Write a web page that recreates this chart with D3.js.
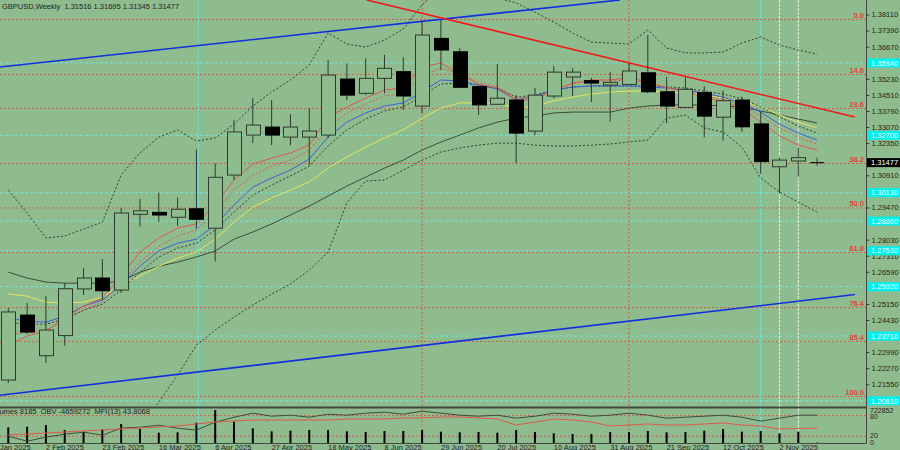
<!DOCTYPE html>
<html>
<head>
<meta charset="utf-8">
<script src="https://cdn.jsdelivr.net/npm/d3@7"></script>
<style>
  body { margin: 0; background: #8fbc8f; }
  svg { display: block; }
  text { font-family: "Liberation Sans", Arial, sans-serif; }
</style>
</head>
<body>
<div id="svg-container"></div>
<script>
// weekly candles, 19 Jan 2025 .. 16 Nov 2025
var opens  = [1.2174,1.2465,1.2283,1.2373,1.2582,1.2631,1.2577,1.2916,1.2925,1.2903,1.2941,1.2854,1.3092,1.3271,1.3307,1.3262,1.3262,1.3271,1.3522,1.3458,1.3525,1.3555,1.3401,1.3704,1.3644,1.3488,1.3409,1.3428,1.3289,1.3446,1.3531,1.3515,1.3495,1.3498,1.3550,1.3465,1.3395,1.3461,1.3351,1.3428,1.3321,1.3129,1.3155,1.31516];
var highs  = [1.2497,1.2519,1.2550,1.2609,1.2676,1.2716,1.2945,1.2985,1.3013,1.2991,1.3207,1.3145,1.3338,1.3437,1.3428,1.3365,1.3392,1.3607,1.3592,1.3615,1.3630,1.3619,1.3783,1.3786,1.3660,1.3491,1.3589,1.3450,1.3482,1.3580,1.3571,1.3527,1.3555,1.3592,1.3719,1.3532,1.3530,1.3491,1.3470,1.3443,1.3376,1.3171,1.3214,1.31695];
var lows   = [1.2161,1.2380,1.2250,1.2328,1.2555,1.2533,1.2564,1.2861,1.2883,1.2864,1.2850,1.2704,1.3070,1.3235,1.3226,1.3226,1.3137,1.3258,1.3428,1.3450,1.3458,1.3383,1.3370,1.3562,1.3482,1.3361,1.3406,1.3146,1.3271,1.3437,1.3446,1.3419,1.3331,1.3498,1.3459,1.3324,1.3395,1.3261,1.3246,1.3286,1.3097,1.3010,1.3085,1.31345];
var closes = [1.2479,1.2389,1.2398,1.2583,1.2631,1.2574,1.2922,1.2932,1.2913,1.2939,1.2894,1.3082,1.3285,1.3316,1.3271,1.3307,1.3289,1.3540,1.3450,1.3525,1.3570,1.3446,1.3719,1.3652,1.3485,1.3406,1.3436,1.3280,1.3450,1.3553,1.3553,1.3504,1.3507,1.3558,1.3465,1.3401,1.3476,1.3356,1.3425,1.3308,1.3152,1.3159,1.3170,1.31477];
var volumes = [344000,357000,394000,285000,248000,300000,416000,307000,226000,234000,445000,722852,467000,322000,256000,269000,285000,285000,256000,241000,263000,263000,285000,248000,234000,241000,226000,285000,241000,212000,197000,197000,241000,241000,263000,234000,241000,269000,307000,248000,263000,212000,248000,8185];

// moving averages and bands
var maRed    = [1.2330,1.2371,1.2393,1.2451,1.2505,1.2541,1.2640,1.2747,1.2810,1.2855,1.2873,1.2958,1.3070,1.3141,1.3168,1.3191,1.3226,1.3352,1.3397,1.3437,1.3473,1.3482,1.3576,1.3594,1.3545,1.3500,1.3482,1.3428,1.3428,1.3473,1.3504,1.3518,1.3518,1.3527,1.3509,1.3482,1.3468,1.3437,1.3424,1.3392,1.3329,1.3267,1.3226,1.3204];
var maRedDot = [1.2375,1.2389,1.2398,1.2442,1.2487,1.2523,1.2613,1.2702,1.2774,1.2819,1.2846,1.2926,1.3025,1.3092,1.3132,1.3159,1.3204,1.3303,1.3370,1.3410,1.3446,1.3459,1.3536,1.3571,1.3545,1.3509,1.3486,1.3437,1.3441,1.3473,1.3500,1.3513,1.3513,1.3518,1.3504,1.3486,1.3473,1.3446,1.3433,1.3406,1.3356,1.3303,1.3262,1.3231];
var maBlue   = [1.2451,1.2438,1.2433,1.2460,1.2505,1.2532,1.2599,1.2684,1.2752,1.2787,1.2805,1.2868,1.2958,1.3038,1.3079,1.3114,1.3164,1.3262,1.3329,1.3370,1.3401,1.3415,1.3464,1.3518,1.3513,1.3495,1.3477,1.3428,1.3446,1.3473,1.3486,1.3491,1.3491,1.3491,1.3486,1.3482,1.3473,1.3459,1.3441,1.3415,1.3374,1.3320,1.3280,1.3249];
var maDark   = [1.2433,1.2424,1.2424,1.2447,1.2487,1.2514,1.2577,1.2657,1.2725,1.2765,1.2787,1.2846,1.2926,1.3002,1.3047,1.3088,1.3132,1.3222,1.3294,1.3343,1.3379,1.3397,1.3446,1.3500,1.3504,1.3495,1.3482,1.3441,1.3450,1.3473,1.3486,1.3491,1.3491,1.3491,1.3491,1.3486,1.3482,1.3468,1.3455,1.3433,1.3397,1.3352,1.3312,1.3280];
var maYellow = [1.2559,1.2550,1.2523,1.2519,1.2523,1.2545,1.2599,1.2640,1.2684,1.2720,1.2747,1.2805,1.2881,1.2949,1.2989,1.3025,1.3061,1.3123,1.3173,1.3217,1.3258,1.3294,1.3347,1.3392,1.3415,1.3415,1.3415,1.3392,1.3401,1.3424,1.3441,1.3455,1.3464,1.3468,1.3468,1.3464,1.3459,1.3450,1.3437,1.3424,1.3397,1.3361,1.3329,1.3303];
var maGray   = [1.2657,1.2631,1.2613,1.2608,1.2608,1.2608,1.2617,1.2657,1.2684,1.2702,1.2725,1.2752,1.2805,1.2837,1.2873,1.2913,1.2953,1.2998,1.3043,1.3083,1.3123,1.3159,1.3204,1.3240,1.3271,1.3303,1.3329,1.3347,1.3356,1.3370,1.3374,1.3374,1.3374,1.3392,1.3401,1.3406,1.3406,1.3406,1.3401,1.3397,1.3379,1.3361,1.3343,1.3325];
var bbUpper  = [1.3025,1.2922,1.2810,1.2819,1.2850,1.2881,1.3092,1.3191,1.3262,1.3294,1.3244,1.3258,1.3320,1.3401,1.3464,1.3518,1.3585,1.3728,1.3679,1.3665,1.3697,1.3746,1.3854,1.3930,1.3948,1.3930,1.3885,1.3863,1.3822,1.3777,1.3728,1.3688,1.3683,1.3679,1.3742,1.3661,1.3639,1.3639,1.3643,1.3683,1.3710,1.3674,1.3652,1.3634];
var bbLower  = [1.1905,1.1882,1.1860,1.1838,1.1838,1.1860,1.1905,1.1972,1.2075,1.2196,1.2330,1.2398,1.2456,1.2510,1.2559,1.2604,1.2666,1.2747,1.2967,1.3065,1.3070,1.3114,1.3159,1.3195,1.3213,1.3226,1.3235,1.3235,1.3226,1.3222,1.3222,1.3226,1.3231,1.3240,1.3249,1.3347,1.3361,1.3303,1.3285,1.3217,1.3079,1.3016,1.2971,1.2926];

// lower window
var obv = [-11.66,-13.33,-12.0,-11.0,-10.33,-11.33,-9.0,-8.66,-8.0,-9.0,-9.66,-7.0,-5.33,-4.0,-5.0,-4.66,-5.33,-4.33,-4.66,-4.0,-3.66,-4.33,-3.33,-4.0,-4.66,-5.0,-4.66,-5.66,-5.0,-4.0,-4.33,-5.0,-4.66,-4.0,-4.66,-5.66,-5.33,-5.0,-4.66,-5.33,-6.66,-5.66,-4.66,-4.66];
var mfi = [23.8,26.7,29.6,32.5,35.4,38.3,41.2,44.1,47.0,49.9,55.7,61.4,64.3,67.2,67.2,67.2,67.2,67.2,70.1,70.1,70.1,73.0,73.0,75.9,75.9,73.0,70.1,52.8,61.4,70.1,67.2,61.4,49.9,52.8,55.7,52.8,52.8,55.7,58.6,52.8,49.9,41.2,42.6,43.8];

// axis labels (levels hidden under the coloured boxes are left out)
var priceTicks = [1.38110,1.37390,1.36670,1.35230,1.34510,1.33790,1.33070,1.32350,1.30910,1.29470,1.28030,1.27310,1.26590,1.25150,1.24430,1.22990,1.22270,1.21550];
var timeLabels = ["12 Jan 2025","2 Feb 2025","23 Feb 2025","16 Mar 2025","6 Apr 2025","27 Apr 2025","18 May 2025","8 Jun 2025","29 Jun 2025","20 Jul 2025","10 Aug 2025","31 Aug 2025","21 Sep 2025","12 Oct 2025","2 Nov 2025"];
var timeLabelBars = [-1,2,5,8,11,14,17,20,23,26,29,32,35,38,41];

// drawn objects
var fibLevels = [0.0,14.6,23.6,38.2,50.0,61.8,76.4,85.4,100.0];
var fibHigh = 1.3789, fibLow = 1.2100;
var cyanLevels = [1.3594,1.3270,1.3013,1.2886,1.2753,1.2592,1.2371,1.2081];
var cyanBars = [10.1, 40];
var redBars = [22, 33];
var whiteBars = [41, 42];
var blueLines = [[[-0.44,1.3576],[32.52,1.3876]], [[-0.44,1.2106],[45.01,1.2557]]];
var redLine = [[19.05,1.3876],[45.01,1.3352]];

var width = 900, height = 450,
    plotRight = 866, plotBottom = 407, panelBottom = 443.5;

var svg = d3.select("#svg-container")
    .append("svg")
    .attr("width", width)
    .attr("height", height)
    .style("background", "#8fbc8f");

svg.append("defs").append("clipPath").attr("id", "clip-main")
  .append("rect").attr("x", 0).attr("y", 0).attr("width", plotRight).attr("height", plotBottom);

var x = d3.scaleLinear().domain([0, 43]).range([8.3, 817.1]);
var y = d3.scaleLinear().domain([1.38110, 1.21550]).range([14.5, 384.3]);
var yVol = d3.scaleLinear().domain([0, 722852]).range([443, 410]);
var yMfi = d3.scaleLinear().domain([0, 100]).range([443.2, 408.7]);
var yObv = d3.scaleLinear().domain([-14, -2]).range([443.2, 407.2]);

var main = svg.append("g").attr("clip-path", "url(#clip-main)");

// cyan horizontal levels
main.selectAll(".cyan-h").data(cyanLevels).enter().append("line")
  .attr("x1", 0).attr("x2", plotRight)
  .attr("y1", d => y(d)).attr("y2", d => y(d))
  .attr("stroke", "#6fe6dc").attr("stroke-width", 1).attr("stroke-dasharray", "3,2");

// fibonacci levels
var fibPrice = lv => fibHigh - (fibHigh - fibLow) * lv / 100;
main.selectAll(".fib").data(fibLevels).enter().append("line")
  .attr("x1", 0).attr("x2", plotRight)
  .attr("y1", d => y(fibPrice(d))).attr("y2", d => y(fibPrice(d)))
  .attr("stroke", "#e0584a").attr("stroke-width", 1).attr("stroke-dasharray", "2,2");
main.selectAll(".fib-label").data(fibLevels).enter().append("text")
  .attr("x", 864).attr("y", d => y(fibPrice(d)) - 1.5)
  .attr("text-anchor", "end")
  .attr("font-size", "7.5px").attr("font-weight", "bold")
  .attr("fill", "#e0443a")
  .text(d => d.toFixed(1));

// vertical lines
function vline(bars, color, dash) {
  main.selectAll(null).data(bars).enter().append("line")
    .attr("x1", d => x(d)).attr("x2", d => x(d))
    .attr("y1", 0).attr("y2", plotBottom)
    .attr("stroke", color).attr("stroke-width", 1).attr("stroke-dasharray", dash);
}
vline(cyanBars, "#5fe8e8", "3,1");
vline(redBars, "#e0503c", "2,2");
vline(whiteBars, "#e6efe6", "3,1");

// bands and averages
function drawLine(values, color, dash) {
  var line = d3.line().x((d, i) => x(i)).y(d => y(d));
  main.append("path").datum(values)
    .attr("fill", "none").attr("stroke", color).attr("stroke-width", 1)
    .attr("stroke-dasharray", dash || null)
    .attr("d", line);
}
drawLine(bbUpper, "#2f402f", "2,2");
drawLine(bbLower, "#2f402f", "2,2");
drawLine(maGray, "#3d4d3d");
drawLine(maYellow, "#e2e65a");
drawLine(maDark, "#2f402f", "2,2");
drawLine(maBlue, "#3f5fd8");
drawLine(maRedDot, "#e0584a", "2,2");
drawLine(maRed, "#e0584a");

// trend lines
blueLines.forEach(function(seg) {
  main.append("line")
    .attr("x1", x(seg[0][0])).attr("y1", y(seg[0][1]))
    .attr("x2", x(seg[1][0])).attr("y2", y(seg[1][1]))
    .attr("stroke", "#1030e0").attr("stroke-width", 1.6);
});
main.append("line")
  .attr("x1", x(redLine[0][0])).attr("y1", y(redLine[0][1]))
  .attr("x2", x(redLine[1][0])).attr("y2", y(redLine[1][1]))
  .attr("stroke", "#f01a1a").attr("stroke-width", 1.6);

// candles
var bars = d3.range(opens.length).map(i => ({i: i, o: opens[i], h: highs[i], l: lows[i], c: closes[i]}));
var candle = main.selectAll(".candle").data(bars).enter().append("g");
candle.append("line")
  .attr("x1", d => x(d.i)).attr("x2", d => x(d.i))
  .attr("y1", d => y(d.h)).attr("y2", d => y(d.l))
  .attr("stroke", "#2e3a2e").attr("stroke-width", 1);
candle.filter(d => d.i < 43).append("rect")
  .attr("x", d => Math.round(x(d.i)) - 7 + 0.5)
  .attr("y", d => y(Math.max(d.o, d.c)))
  .attr("width", 14)
  .attr("height", d => Math.max(1, y(Math.min(d.o, d.c)) - y(Math.max(d.o, d.c))))
  .attr("fill", d => d.c >= d.o ? "#8fbc8f" : "#000")
  .attr("stroke", d => d.c >= d.o ? "#2e3a2e" : "#000")
  .attr("stroke-width", 1);
// current bar is a cross
candle.filter(d => d.i === 43).append("line")
  .attr("x1", d => x(d.i) - 7).attr("x2", d => x(d.i) + 7)
  .attr("y1", d => y(d.c)).attr("y2", d => y(d.c))
  .attr("stroke", "#1a1a1a").attr("stroke-width", 1.2);

// frame
svg.append("line").attr("x1", 0).attr("x2", plotRight + 0.5).attr("y1", plotBottom + 0.5).attr("y2", plotBottom + 0.5)
  .attr("stroke", "#404840").attr("stroke-width", 2);
svg.append("line").attr("x1", 0).attr("x2", plotRight + 0.5).attr("y1", panelBottom).attr("y2", panelBottom)
  .attr("stroke", "#404840").attr("stroke-width", 1);
svg.append("line").attr("x1", plotRight + 0.5).attr("x2", plotRight + 0.5).attr("y1", 0).attr("y2", panelBottom)
  .attr("stroke", "#404840").attr("stroke-width", 1);

// price axis
var yAxis = svg.append("g")
  .attr("transform", "translate(" + (plotRight + 0.5) + ",0)")
  .call(d3.axisRight(y).tickValues(priceTicks).tickFormat(d3.format(".5f")).tickSize(3).tickPadding(2));
yAxis.select(".domain").remove();
yAxis.selectAll("line").attr("stroke", "#303830");
yAxis.selectAll("text").attr("font-size", "7.5px").attr("fill", "#1e241e")
  .attr("font-family", "Liberation Sans, Arial, sans-serif");

// cyan price boxes
svg.selectAll(".cyan-box").data(cyanLevels).enter().append("rect")
  .attr("x", plotRight + 1).attr("y", d => y(d) - 4.5)
  .attr("width", width - plotRight).attr("height", 9)
  .attr("fill", "#00f0f0");
svg.selectAll(".cyan-txt").data(cyanLevels).enter().append("text")
  .attr("x", plotRight + 5).attr("y", d => y(d) + 2.7)
  .attr("font-size", "7.5px").attr("fill", "#e8ffff")
  .text(d => d.toFixed(5));

// current price box
var last = closes[closes.length - 1];
svg.append("rect").attr("x", plotRight + 1).attr("y", y(last) - 4.5)
  .attr("width", width - plotRight).attr("height", 9).attr("fill", "#000");
svg.append("text").attr("x", plotRight + 5).attr("y", y(last) + 2.7)
  .attr("font-size", "7.5px").attr("fill", "#fff").text(last.toFixed(5));

// title
svg.append("text").attr("x", 2).attr("y", 9)
  .attr("font-size", "7.5px").attr("fill", "#1e241e")
  .attr("xml:space", "preserve")
  .text("GBPUSD,Weekly  1.31516 1.31695 1.31345 1.31477");

// lower window
var panel = svg.append("g");
panel.selectAll(".lvl").data([80, 20]).enter().append("line")
  .attr("x1", 0).attr("x2", plotRight)
  .attr("y1", d => yMfi(d)).attr("y2", d => yMfi(d))
  .attr("stroke", "#e0584a").attr("stroke-dasharray", "2,2");
vlinePanel(cyanBars, "#5fe8e8", "3,1");
vlinePanel(redBars, "#e0503c", "2,2");
vlinePanel(whiteBars, "#e6efe6", "3,1");
function vlinePanel(bars, color, dash) {
  panel.selectAll(null).data(bars).enter().append("line")
    .attr("x1", d => x(d)).attr("x2", d => x(d))
    .attr("y1", plotBottom + 1.5).attr("y2", panelBottom)
    .attr("stroke", color).attr("stroke-dasharray", dash);
}
panel.selectAll(".vol").data(volumes).enter().append("line")
  .attr("x1", (d, i) => x(i)).attr("x2", (d, i) => x(i))
  .attr("y1", yVol(0)).attr("y2", d => yVol(d))
  .attr("stroke", "#000").attr("stroke-width", 2);
panel.append("path").datum(obv)
  .attr("fill", "none").attr("stroke", "#3d4d3d")
  .attr("d", d3.line().x((d, i) => x(i)).y(d => yObv(d)));
panel.append("path").datum(mfi)
  .attr("fill", "none").attr("stroke", "#e0584a")
  .attr("d", d3.line().x((d, i) => x(i)).y(d => yMfi(d)));
panel.append("text").attr("x", -11).attr("y", 413.5)
  .attr("font-size", "7.5px").attr("fill", "#1e241e")
  .attr("xml:space", "preserve")
  .text("Volumes 8185  OBV -4659272  MFI(13) 43.8068");

var panelTicks = [{v: "722852", y: 412.5}, {v: "80", y: 418.6}, {v: "20", y: 437.8}, {v: "0", y: 444.6}];
svg.selectAll(".ptick").data(panelTicks).enter().append("text")
  .attr("x", plotRight + 4).attr("y", d => d.y)
  .attr("font-size", "7px").attr("fill", "#1e241e")
  .text(d => d.v);

// time axis
svg.selectAll(".tlabel").data(timeLabels).enter().append("text")
  .attr("x", (d, i) => x(timeLabelBars[i]))
  .attr("y", 449.5)
  .attr("font-size", "7.5px").attr("fill", "#1e241e")
  .text(d => d);
</script>
</body>
</html>
